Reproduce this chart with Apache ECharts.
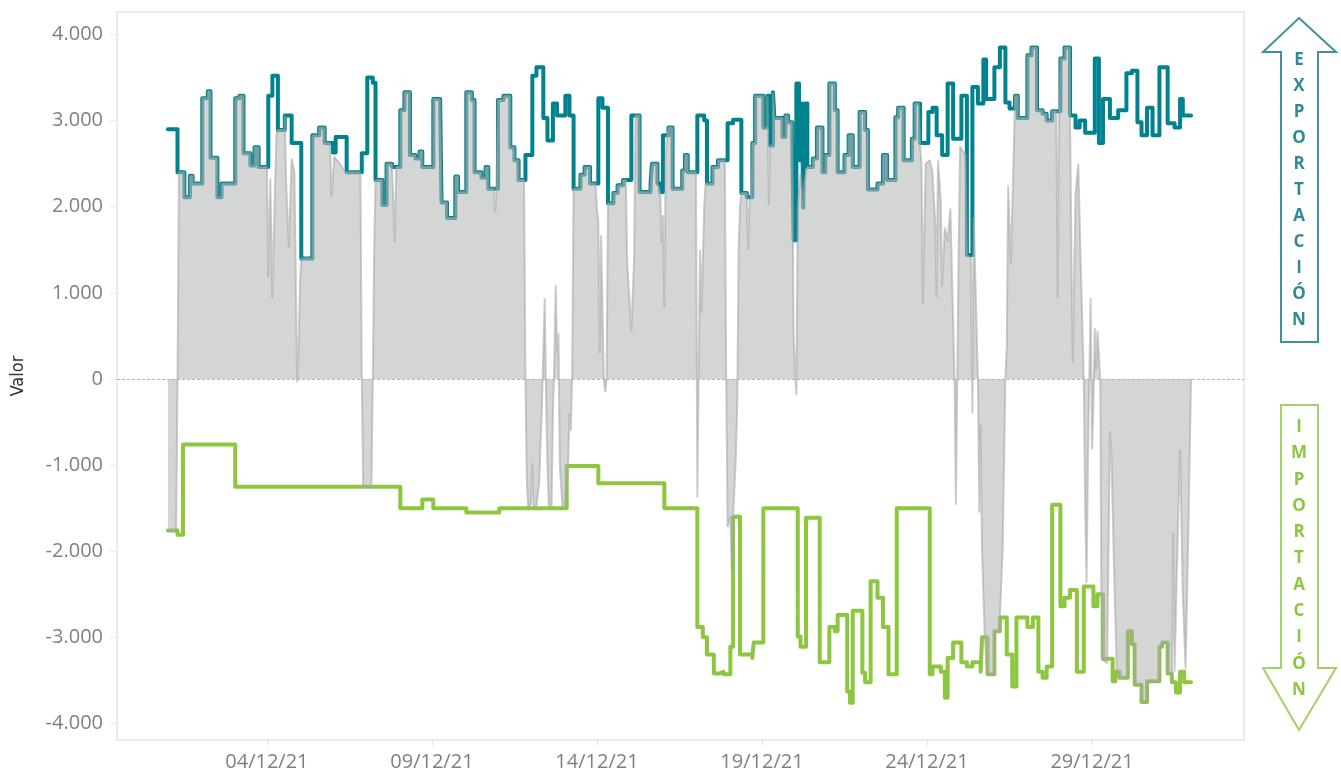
<!DOCTYPE html>
<html>
<head>
<meta charset="utf-8">
<script src="https://cdn.jsdelivr.net/npm/echarts@6/dist/echarts.min.js"></script>
<style>
  html, body { margin: 0; padding: 0; background: #ffffff; }
  #chart { width: 1341px; height: 776px; }
</style>
</head>
<body>
<div id="chart"></div>
<script>
// Hours are counted from 01/12/21 00:00.
const tickLabels = ['04/12/21', '09/12/21', '14/12/21', '19/12/21', '24/12/21', '29/12/21'];
const yTickValues = [-4000, -3000, -2000, -1000, 0, 1000, 2000, 3000, 4000];
const lastHour = 744;

// Export capacity (MW): [hour where the step starts, value]
const exportCap = [
  [0,2900],[7,2400],[12,2110],[16,2360],[18,2270],[25,3260],[29,3340],[31,2570],[36,2110],[39,2270],
  [49,3260],[52,3290],[55,2620],[60,2480],[63,2690],[66,2460],[73,3290],[76,3520],[80,2890],[85,3060],
  [90,2740],[97,1400],[105,2830],[110,2920],[114,2740],[120,2630],[122,2810],[130,2400],[141,2620],[145,3500],
  [149,3440],[151,2310],[156,2020],[159,2500],[163,2460],[169,3120],[172,3330],[176,2600],[180,2560],[183,2640],
  [185,2460],[193,3250],[198,3200],[199,2050],[203,1870],[209,2350],[211,2170],[217,3330],[221,3240],[223,2400],
  [228,2340],[231,2460],[233,2210],[240,3240],[244,3290],[249,2690],[252,2540],[255,2310],[260,2600],[265,3520],
  [268,3620],[273,3030],[276,2770],[280,3200],[283,3060],[289,3290],[292,3060],[295,2210],[300,2370],[303,2460],
  [307,2270],[313,3260],[316,3150],[320,2040],[324,2160],[327,2250],[331,2310],[337,3060],[343,2170],[351,2270],
  [352,2500],[356,2270],[358,2170],[360,2830],[364,2920],[367,2210],[374,2420],[376,2600],[378,2400],[385,3060],
  [390,3000],[392,2270],[396,2460],[400,2540],[407,2970],[411,3010],[417,2160],[421,2110],[425,2740],[427,3290],
  [433,2920],[436,3290],[438,2710],[440,3330],[441,3030],[447,2810],[449,3060],[451,2980],[454,2790],[455,1610],
  [457,3430],[459,2540],[461,3200],[462,1990],[463,3200],[465,2460],[469,2560],[472,2920],[476,2400],[478,2600],
  [481,3430],[485,3120],[487,2400],[492,2600],[495,2830],[498,2460],[503,3100],[507,2890],[509,2200],[516,2270],
  [520,2600],[523,2310],[529,3040],[531,3150],[535,2540],[541,2790],[543,3200],[547,2740],[553,3100],[556,3150],
  [559,2830],[563,2600],[567,3430],[571,2790],[577,3290],[581,1440],[585,3390],[589,3200],[593,3710],[595,3250],
  [601,3620],[605,3850],[609,3210],[612,3140],[616,3290],[618,3030],[625,3760],[628,3850],[632,3120],[636,3080],
  [639,3000],[643,3110],[649,3720],[652,3850],[656,3060],[660,2920],[663,3000],[667,2860],[674,3720],[677,2740],
  [680,3250],[685,3030],[691,3120],[697,3550],[701,3580],[705,2980],[708,2830],[712,3150],[716,2830],[721,3620],
  [727,2970],[732,2920],[736,3250],[738,3060]
];

// Import capacity (MW, negative): [hour where the step starts, value]
const importCap = [
  [0,-1760],[7,-1810],[11,-760],[49,-1250],[169,-1500],[185,-1400],[193,-1500],[217,-1550],[241,-1500],[290,-1010],
  [313,-1210],[361,-1500],[385,-2880],[389,-3000],[392,-3200],[397,-3420],[401,-3400],[404,-3430],[409,-3110],[411,-1600],
  [416,-3200],[425,-3240],[426,-3060],[433,-1500],[458,-2990],[460,-3110],[464,-1610],[474,-3290],[481,-2880],[485,-2930],
  [487,-2740],[494,-3630],[496,-3760],[498,-2690],[505,-3410],[507,-3520],[511,-2350],[516,-2540],[520,-2880],[524,-3430],
  [530,-1500],[554,-3430],[556,-3340],[562,-3400],[565,-3700],[567,-3240],[571,-3060],[577,-3290],[581,-3340],[585,-3290],
  [591,-3400],[592,-3000],[596,-3430],[601,-2930],[605,-2770],[610,-3200],[614,-3570],[617,-2770],[625,-2880],[629,-2770],
  [633,-3400],[636,-3470],[639,-3340],[643,-1460],[649,-2640],[652,-2540],[656,-2450],[661,-3400],[666,-2410],[673,-2640],
  [676,-2500],[680,-3250],[687,-3510],[689,-3400],[692,-3470],[698,-2930],[701,-3080],[703,-3550],[708,-3750],[712,-3510],
  [721,-3110],[723,-3060],[727,-3420],[730,-3520],[733,-3640],[736,-3400],[739,-3520]
];

// Net exchange (MW): hour ranges where the flow runs at the export or import limit
const netAtExportCap = [
  [8,72],[80,85],[97,118],[130,140],[151,164],[166,237],[239,259],[295,311],[320,333],[340,357],
  [363,384],[392,405],[417,421],[424,436],[438,454],[465,546],[616,646],[648,656]
];
const netAtImportCap = [[0,6],[142,148],[596,606],[690,730]];

// Net exchange (MW): hourly readings outside those ranges
const netPoints = [
  [7,0],[73,1180],[74.5,2330],[76,940],[78,2300],[79,2850],[86,2270],[88,1530],[90,2560],[92,2400],
  [94,-40],[95,300],[96,1100],[119,2110],[121,2580],[125,2500],[129,2400],[141,0],[149,0],[150,1500],
  [165,1590],[238,1940],[260,0],[261,-1200],[262,-1500],[264,-1450],[265,-980],[266,-1500],[268,-1480],[270,-1200],
  [272,-300],[274,940],[275,-200],[276,-1000],[277,-1500],[279,-1480],[280,-400],[281,200],[282,1090],[283,300],
  [284,530],[285,-1000],[287,-1500],[289,-1480],[291,-1000],[292,-400],[293,-600],[294,100],[312,1960],[313,1840],
  [314,300],[315,1670],[317,0],[318,-150],[319,0],[334,1350],[337,550],[339,1380],[358,2170],[359,1580],
  [360,1900],[361,830],[362,2600],[385,-1380],[386,200],[387,1500],[388,770],[390,2000],[391,2270],[406,0],
  [407,-1720],[409,-1600],[410,-2250],[411,-1600],[412,-1600],[413,-900],[414,-300],[415,1500],[416,2000],[422,1500],
  [423,2075],[437,2020],[455,480],[457,-190],[458,1990],[460,2400],[462,1990],[463,2300],[547,2700],[548,2500],
  [549,880],[551,2500],[554,2540],[556,2400],[558,1800],[559,950],[560,2540],[562,2075],[563,1070],[565,1760],
  [567,1590],[569,1980],[572,0],[573,-1460],[574,0],[575,1460],[576,2700],[580,2600],[581,1440],[584,1400],
  [585,-400],[586,1880],[589,0],[590,-1550],[591,-530],[592,-2000],[594,-3000],[607,-1980],[608,-1000],[609,0],
  [610,400],[611,2250],[613,1340],[615,2600],[647,940],[657,1500],[658,190],[660,2150],[662,2500],[664,1200],
  [666,0],[667,-1500],[668,-2370],[669,-1000],[670,0],[671,940],[672,-820],[673,-300],[674,590],[675,100],
  [676,560],[678,0],[679,-3250],[683,-3300],[685,-610],[686,-820],[688,-2200],[731,-1790],[732,-3400],[734,-2000],
  [736,-820],[738,-2500],[740,-3370],[742,-1800],[744,0]
];

// ---- building the series from the tables above ----
function valueAt(steps, h) {
  let v = steps[0][1];
  for (const [t, val] of steps) { if (t <= h) v = val; else break; }
  return v;
}
function stepLine(steps) {
  return steps.concat([[lastHour, steps[steps.length - 1][1]]]);
}
function traceLimit(steps, h0, h1) {
  const pts = [[h0, valueAt(steps, h0)]];
  for (const [t, val] of steps) {
    if (t > h0 && t <= h1) {
      pts.push([t, valueAt(steps, t - 0.001)]);
      pts.push([t, val]);
    }
  }
  pts.push([h1, valueAt(steps, h1)]);
  return pts;
}
let netSeries = netPoints.map(p => p.slice());
netAtExportCap.forEach(r => { netSeries = netSeries.concat(traceLimit(exportCap, r[0], r[1])); });
netAtImportCap.forEach(r => { netSeries = netSeries.concat(traceLimit(importCap, r[0], r[1])); });
netSeries.sort((a, b) => a[0] - b[0]);

const tickHours = tickLabels.map(s => (parseInt(s.slice(0, 2), 10) - 1) * 24);

function thousands(v) {
  const s = String(Math.abs(v)).replace(/\B(?=(\d{3})+(?!\d))/g, '.');
  return (v < 0 ? '-' : '') + s;
}

const teal = '#00838f';
const green = '#8dc63f';
const labelFont = '"Open Sans", "DejaVu Sans", sans-serif';

const chart = echarts.init(document.getElementById('chart'), null, { renderer: 'canvas' });
chart.setOption({
  animation: false,
  backgroundColor: '#ffffff',
  grid: {
    left: 117, right: 97, top: 12, bottom: 36,
    outerBoundsMode: 'none',
    containLabel: false,
    show: true, borderColor: '#d6d6d6', borderWidth: 1
  },
  xAxis: {
    type: 'value',
    min: -37, max: 782.5,
    axisLine: { show: false, onZero: false },
    splitLine: { show: false },
    axisTick: { show: true, customValues: tickHours, length: 5, lineStyle: { color: '#e2e2e2' } },
    axisLabel: {
      customValues: tickHours,
      formatter: v => tickLabels[tickHours.indexOf(v)] || '',
      color: '#808080', fontSize: 20, fontFamily: labelFont, margin: 12
    }
  },
  yAxis: {
    type: 'value',
    min: -4192, max: 4261,
    name: 'Valor',
    nameLocation: 'middle',
    nameGap: 90,
    nameTextStyle: { color: '#333333', fontSize: 18, fontFamily: '"Liberation Sans Narrow", "DejaVu Sans Condensed", sans-serif' },
    axisLine: { show: false, onZero: false },
    splitLine: { show: false },
    axisTick: { show: true, customValues: yTickValues, length: 7, lineStyle: { color: '#ebebeb' } },
    axisLabel: {
      customValues: yTickValues,
      formatter: v => thousands(v),
      color: '#808080', fontSize: 20, fontFamily: labelFont, margin: 14
    }
  },
  series: [
    {
      name: 'Exportación',
      type: 'line',
      step: 'end',
      data: stepLine(exportCap),
      showSymbol: false,
      z: 2,
      lineStyle: { color: teal, width: 4, cap: 'round', join: 'round' }
    },
    {
      name: 'Importación',
      type: 'line',
      step: 'end',
      data: stepLine(importCap),
      showSymbol: false,
      z: 2,
      lineStyle: { color: green, width: 4, cap: 'round', join: 'round' }
    },
    {
      name: 'Saldo',
      type: 'line',
      data: netSeries,
      showSymbol: false,
      z: 3,
      lineStyle: { color: '#a3a4a4', opacity: 0.55, width: 2 },
      areaStyle: { color: '#b1b2b2', opacity: 0.55 },
      markLine: {
        silent: true,
        symbol: 'none',
        label: { show: false },
        lineStyle: { color: '#b5b5b5', type: [3, 2], width: 1 },
        data: [{ yAxis: 0 }]
      }
    }
  ],
  graphic: [
    {
      type: 'polygon',
      shape: { points: [[1299, 18], [1336, 52], [1318, 52], [1318, 342], [1281, 342], [1281, 52], [1263, 52]] },
      style: { fill: '#ffffff', stroke: '#3f929c', lineWidth: 2 }
    },
    {
      type: 'text', x: 1299, y: 47,
      style: {
        text: 'EXPORTACIÓN'.split('').join('\n'),
        fill: '#2f8a94', font: 'bold 17px "Open Sans", sans-serif',
        align: 'center', verticalAlign: 'top', lineHeight: 26
      }
    },
    {
      type: 'polygon',
      shape: { points: [[1281, 405], [1318, 405], [1318, 668], [1336, 668], [1299, 730], [1263, 668], [1281, 668]] },
      style: { fill: '#ffffff', stroke: '#a3d16b', lineWidth: 2 }
    },
    {
      type: 'text', x: 1299, y: 414,
      style: {
        text: 'IMPORTACIÓN'.split('').join('\n'),
        fill: '#8dc63f', font: 'bold 17px "Open Sans", sans-serif',
        align: 'center', verticalAlign: 'top', lineHeight: 26.3
      }
    }
  ]
});
</script>
</body>
</html>
